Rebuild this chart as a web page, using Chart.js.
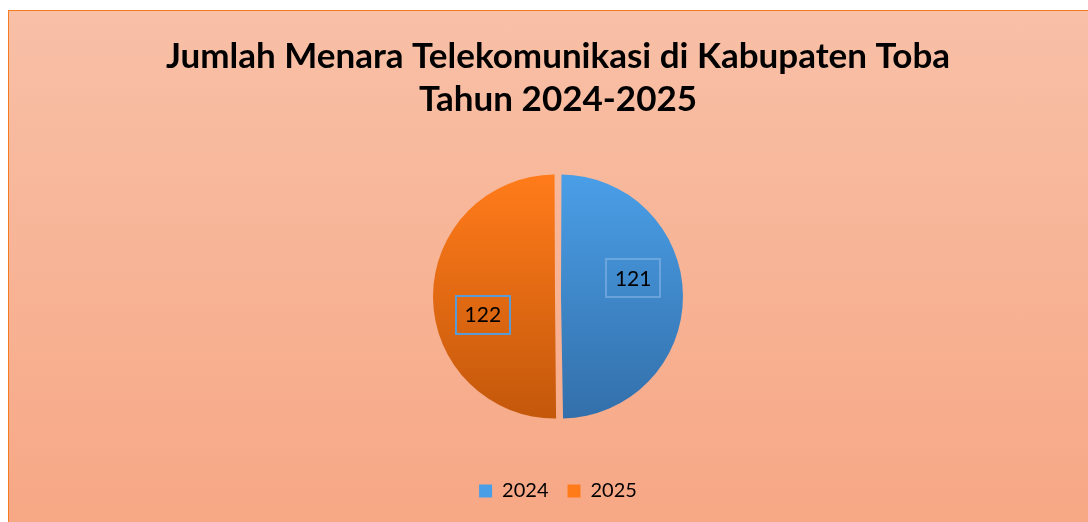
<!DOCTYPE html>
<html>
<head>
<meta charset="utf-8">
<script src="https://cdn.jsdelivr.net/npm/chart.js@4"></script>
<style>
  html, body { margin:0; padding:0; background:#fff; width:1088px; height:522px; overflow:hidden; }
  #wrap {
    position:absolute; left:8px; top:10px; width:1092px; height:524px;
    border:1px solid #f47b20; box-sizing:border-box;
    background:linear-gradient(to bottom, #f8c0a7, #f7a784);
  }
  #chart { display:block; }
</style>
</head>
<body>
<div id="wrap"><canvas id="chart" width="1090" height="522"></canvas></div>
<script>
// ── DATA ──
const titleLines = ['Jumlah Menara Telekomunikasi di Kabupaten Toba', 'Tahun 2024-2025'];
const years  = ['2024', '2025'];
const towers = [121, 122];

// ── COLOURS ──
const TOP    = ['#4a9ee6', '#ff7b1a'];
const BOTTOM = ['#3370ab', '#c4580b'];
const BOXLINE = ['rgba(150,190,235,0.5)', '#5b9bd5'];
const FONT = 'Lato, "Open Sans", sans-serif';
const RADIUS = 119;

function sliceFill(ctx) {
  const i = ctx.dataIndex;
  const area = ctx.chart.chartArea;
  if (!area) return TOP[i];
  const cy = (area.top + area.bottom) / 2;
  const g = ctx.chart.ctx.createLinearGradient(0, cy - RADIUS, 0, cy + RADIUS);
  g.addColorStop(0, TOP[i]);
  g.addColorStop(1, BOTTOM[i]);
  return g;
}

// value labels in a little box, a bit rotated like the office default
const boxLabels = {
  id: 'boxLabels',
  afterDatasetsDraw(chart) {
    const c = chart.ctx;
    const meta = chart.getDatasetMeta(0);
    c.save();
    c.font = '21px ' + FONT;
    c.textAlign = 'center';
    c.textBaseline = 'middle';
    meta.data.forEach((arc, i) => {
      const mid = (arc.startAngle + arc.endAngle) / 2 - 0.23;
      const r = arc.outerRadius * 0.65;
      const x = arc.x + Math.cos(mid) * r;
      const y = arc.y + Math.sin(mid) * r;
      const w = 54, h = 38;
      c.strokeStyle = BOXLINE[i];
      c.lineWidth = 2;
      c.strokeRect(Math.round(x - w/2), Math.round(y - h/2), w, h);
      c.fillStyle = '#000';
      c.fillText(String(towers[i]), x, y + 1);
    });
    c.restore();
  }
};

new Chart(document.getElementById('chart'), {
  type: 'pie',
  data: {
    labels: years,
    datasets: [{
      data: towers,
      backgroundColor: sliceFill,
      borderWidth: 0,
      offset: 12,
      radius: RADIUS
    }]
  },
  options: {
    responsive: false,
    animation: false,
    layout: { padding: { left: 8, top: 0, bottom: 22 } },
    plugins: {
      title: {
        display: true,
        text: titleLines,
        color: '#000',
        font: { family: FONT, size: 35, weight: 'bold', lineHeight: 1.23 },
        padding: { top: 24, bottom: 10 }
      },
      legend: {
        position: 'bottom',
        labels: {
          color: '#000',
          font: { family: FONT, size: 20 },
          boxWidth: 13, boxHeight: 13,
          padding: 19,
          generateLabels(chart) {
            return years.map((y, i) => ({
              text: y, fillStyle: TOP[i], strokeStyle: TOP[i], lineWidth: 0, index: i, hidden: false
            }));
          }
        }
      },
      tooltip: { enabled: false }
    }
  },
  plugins: [boxLabels]
});
</script>
</body>
</html>
